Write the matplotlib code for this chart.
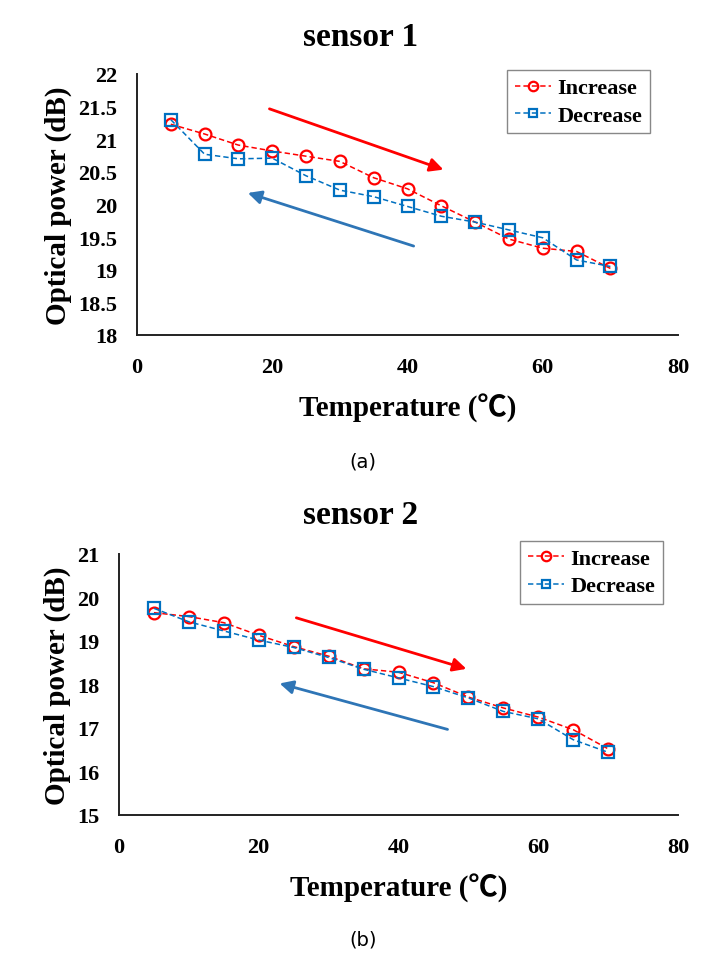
import numpy as np
import matplotlib
matplotlib.use("Agg")
import matplotlib.pyplot as plt

# Data
temperature = [5, 10, 15, 20, 25, 30, 35, 40, 45, 50, 55, 60, 65, 70]

s1_increase = [21.23, 21.08, 20.91, 20.82, 20.74, 20.66, 20.41, 20.24, 19.98, 19.73, 19.47, 19.33, 19.28, 19.02]
s1_decrease = [21.30, 20.77, 20.70, 20.71, 20.44, 20.22, 20.12, 19.97, 19.82, 19.73, 19.61, 19.49, 19.15, 19.05]

s2_increase = [19.65, 19.56, 19.42, 19.13, 18.87, 18.65, 18.36, 18.28, 18.04, 17.71, 17.46, 17.25, 16.96, 16.52]
s2_decrease = [19.75, 19.44, 19.23, 19.02, 18.85, 18.62, 18.35, 18.15, 17.95, 17.69, 17.38, 17.21, 16.73, 16.44]

x_ticks = [0, 20, 40, 60, 80]
s1_y_ticks = [18, 18.5, 19, 19.5, 20, 20.5, 21, 21.5, 22]
s2_y_ticks = [15, 16, 17, 18, 19, 20, 21]

# arrows (start, end) in data units
s1_red_arrow = [(19.2, 21.48), (45.7, 20.52)]
s1_blue_arrow = [(41.3, 19.35), (16.0, 20.19)]
s2_red_arrow = [(25.0, 19.55), (50.1, 18.34)]
s2_blue_arrow = [(47.4, 16.95), (22.6, 18.04)]

RED = "#FF0000"
BLUE = "#0070C0"
ARROW_BLUE = "#2E75B6"
SERIF = ["Liberation Serif", "Noto Sans CJK KR", "DejaVu Serif"]

plt.rcParams["font.family"] = SERIF
plt.rcParams["font.weight"] = "bold"


def draw_panel(ax, inc, dec, yticks, red_arrow, blue_arrow, legend_anchor, ylabel_x):
    ax.plot(temperature, inc, linestyle=(0, (3.5, 2)), color=RED, lw=1.1,
            marker="o", markersize=8.5, markerfacecolor="none",
            markeredgewidth=1.6, label="Increase")
    ax.plot(temperature, dec, linestyle=(0, (3.5, 2)), color=BLUE, lw=1.1,
            marker="s", markersize=8, markerfacecolor="none",
            markeredgewidth=1.6, label="Decrease")

    ax.annotate("", xy=red_arrow[1], xytext=red_arrow[0],
                arrowprops=dict(arrowstyle="-|>", color=RED, lw=2, mutation_scale=20))
    ax.annotate("", xy=blue_arrow[1], xytext=blue_arrow[0],
                arrowprops=dict(arrowstyle="-|>", color=ARROW_BLUE, lw=2, mutation_scale=20))

    ax.set_xlim(x_ticks[0], x_ticks[-1])
    ax.set_ylim(yticks[0], yticks[-1])
    ax.set_xticks(x_ticks)
    ax.set_yticks(yticks)
    ax.set_yticklabels([("%g" % v) for v in yticks])
    ax.tick_params(length=0, labelsize=16)
    ax.tick_params(axis="y", pad=14)
    ax.tick_params(axis="x", pad=16)
    for lab in ax.get_xticklabels() + ax.get_yticklabels():
        lab.set_fontweight("bold")

    for side in ["top", "right"]:
        ax.spines[side].set_visible(False)
    for side in ["left", "bottom"]:
        ax.spines[side].set_linewidth(1.4)
        ax.spines[side].set_color("#222222")

    ax.set_xlabel("Temperature (℃)", fontsize=21, fontweight="bold")
    ax.xaxis.set_label_coords(0.5, -0.276)
    ax.xaxis.label.set_va("center")
    ax.set_ylabel("Optical power (dB)", fontsize=21, fontweight="bold")
    ax.yaxis.set_label_coords(ylabel_x, 0.5)
    ax.yaxis.label.set_va("center")

    leg = ax.legend(loc="upper right", bbox_to_anchor=legend_anchor, borderaxespad=0,
                    fancybox=False, edgecolor="#888888", framealpha=1,
                    handlelength=1.6, handletextpad=0.3, borderpad=0.35,
                    labelspacing=0.3, markerscale=0.8,
                    prop={"family": SERIF, "weight": "bold", "size": 16})
    leg.get_frame().set_linewidth(1.0)


fig = plt.figure(figsize=(7.26, 9.54), dpi=100)

ax1 = fig.add_axes([0.1887, 0.6478, 0.7452, 0.2736])
draw_panel(ax1, s1_increase, s1_decrease, s1_y_ticks, s1_red_arrow, s1_blue_arrow,
           (0.948, 1.015), -0.146)

ax2 = fig.add_axes([0.1639, 0.1447, 0.7700, 0.2736])
draw_panel(ax2, s2_increase, s2_decrease, s2_y_ticks, s2_red_arrow, s2_blue_arrow,
           (0.973, 1.050), -0.110)

fig.text(0.497, 1 - 37 / 954, "sensor 1", ha="center", va="center", fontsize=24, fontweight="bold")
fig.text(0.497, 1 - 515 / 954, "sensor 2", ha="center", va="center", fontsize=24, fontweight="bold")

fig.text(0.5, 1 - 462 / 954, "(a)", ha="center", va="center", fontsize=14,
         family=["DejaVu Sans"], fontweight="normal")
fig.text(0.5, 1 - 940 / 954, "(b)", ha="center", va="center", fontsize=14,
         family=["DejaVu Sans"], fontweight="normal")

fig.savefig("out.png", dpi=100)
